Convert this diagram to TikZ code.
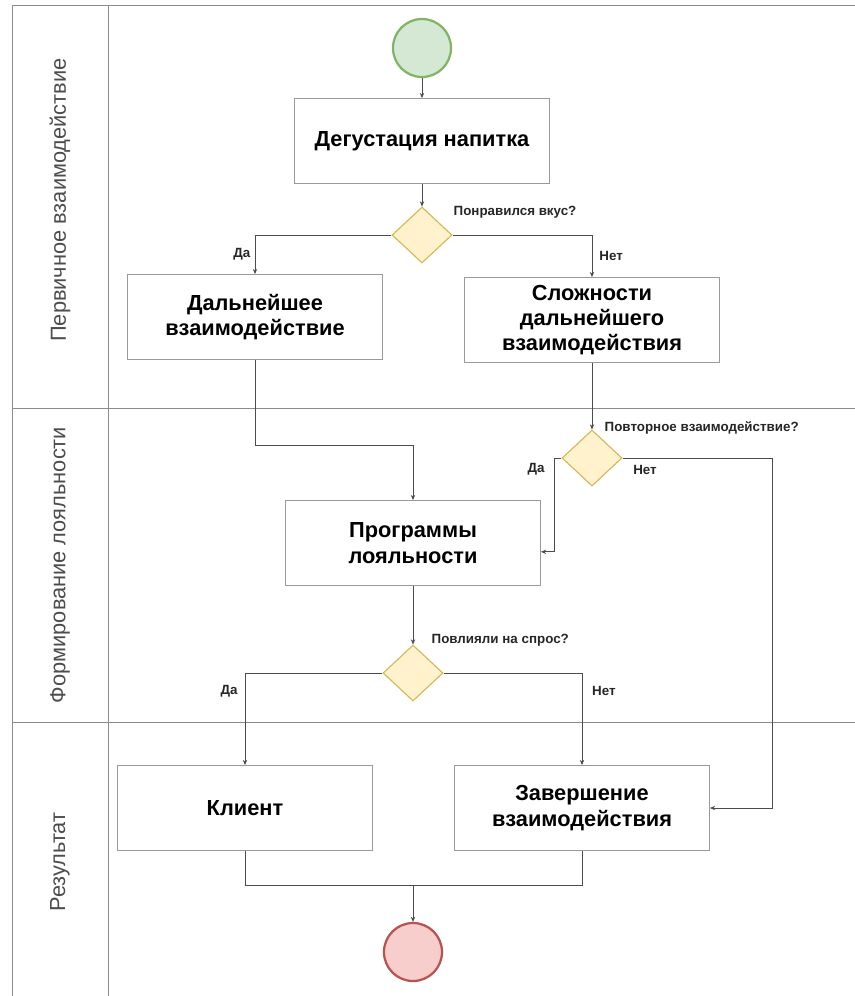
\documentclass[tikz,border=0pt]{standalone}
\usepackage{fontspec}
\setmainfont{Liberation Sans}
\usepackage{tikz}
\usetikzlibrary{arrows.meta,positioning,shapes.geometric}

\definecolor{lanegray}{HTML}{8C8C8C}
\definecolor{boxgray}{HTML}{9A9A9A}
\definecolor{startfill}{HTML}{D5E8D4}
\definecolor{startline}{HTML}{82B366}
\definecolor{endfill}{HTML}{F8CECC}
\definecolor{endline}{HTML}{B85450}
\definecolor{decfill}{HTML}{FFF2CC}
\definecolor{decline}{HTML}{D6B656}

\begin{document}
\begin{tikzpicture}[
    x=0.025cm, y=-0.025cm,
    box/.style={draw=boxgray,line width=0.6pt,fill=white,minimum width=6.375cm,
                minimum height=2.125cm,align=center,
                font=\fontsize{15.5}{18}\selectfont\bfseries},
    decision/.style={diamond,draw=decline,line width=0.8pt,fill=decfill,
                     minimum width=1.5cm,minimum height=1.4cm,inner sep=0pt},
    startev/.style={circle,draw=startline,line width=1.6pt,fill=startfill,
                    minimum size=1.45cm,inner sep=0pt},
    endev/.style={circle,draw=endline,line width=1.6pt,fill=endfill,
                  minimum size=1.45cm,inner sep=0pt},
    arr/.style={-{Stealth[length=1.3mm,width=1.1mm]},line width=0.5pt,draw=black!70},
    link/.style={line width=0.5pt,draw=black!70},
    ann/.style={font=\fontsize{9.5}{11}\selectfont\bfseries,text=black!85,inner sep=1pt},
    lane/.style={rotate=90,font=\fontsize{15.5}{18}\selectfont,text=black!70},
]
\useasboundingbox (0,0) rectangle (855,996);

% Pool and lanes
\draw[lanegray,line width=0.6pt] (12,5) -- (855,5);
\draw[lanegray,line width=0.6pt] (12,5) -- (12,996);
\draw[lanegray,line width=0.6pt] (108,5) -- (108,996);
\draw[lanegray,line width=0.6pt] (12,408) -- (855,408);
\draw[lanegray,line width=0.6pt] (12,722) -- (855,722);

\node[lane] (lane1) at (60,200) {Первичное взаимодействие};
\node[lane] (lane2) at (60,565) {Формирование лояльности};
\node[lane] (lane3) at (60,862) {Результат};

% Start and first task
\node[startev] (start) at (422,48) {};
\node[box] (taste) at (422,141) {Дегустация напитка};
\draw[arr] (start.south) -- (taste.north);

% First decision
\node[decision] (d1) at (422,235) {};
\draw[arr] (taste.south) -- (d1.north);
\node[ann,anchor=west] (q1) at (452,212) {Понравился вкус?};

\node[box] (further) at (255,317) {Дальнейшее\\взаимодействие};
\node[box] (hard) at (592,320) {Сложности\\дальнейшего\\взаимодействия};
\draw[arr] (d1.west) -| (further.north) node[ann,pos=0.75,left=2pt] (y1) {Да};
\draw[arr] (d1.east) -| (hard.north) node[ann,pos=0.75,right=4pt] (n1) {Нет};

% Second decision
\node[decision] (d2) at (592,458) {};
\draw[arr] (hard.south) -- (d2.north);
\node[ann,anchor=west] (q2) at (603,428) {Повторное взаимодействие?};

\node[box] (loyal) at (413,543) {Программы\\лояльности};
\draw[arr] (further.south) -- ++(0,85) -| (loyal.north);
\draw[arr] (d2.west) -- ++(-7,0) |- ([yshift=-0.22cm]loyal.east);
\node[ann] (y2) at (536,469) {Да};
\node[ann] (n2) at (645,470) {Нет};

% Third decision
\node[decision] (d3) at (413,673) {};
\draw[arr] (loyal.south) -- (d3.north);
\node[ann,anchor=west] (q3) at (430,640) {Повлияли на спрос?};

\node[box] (client) at (245,808) {Клиент};
\node[box] (finish) at (582,808) {Завершение\\взаимодействия};
\draw[arr] (d3.west) -| (client.north) node[ann,pos=0.6,left=4pt] (y3) {Да};
\draw[arr] (d3.east) -| (finish.north) node[ann,pos=0.6,right=6pt] (n3) {Нет};
\draw[arr] (d2.east) -- ++(150,0) |- (finish.east);

% End
\node[endev] (stop) at (413,952) {};
\coordinate (merge) at (413,885);
\draw[link] (client.south) |- (merge) -| (finish.south);
\draw[arr] (merge) -- (stop.north);

\end{tikzpicture}
\end{document}
